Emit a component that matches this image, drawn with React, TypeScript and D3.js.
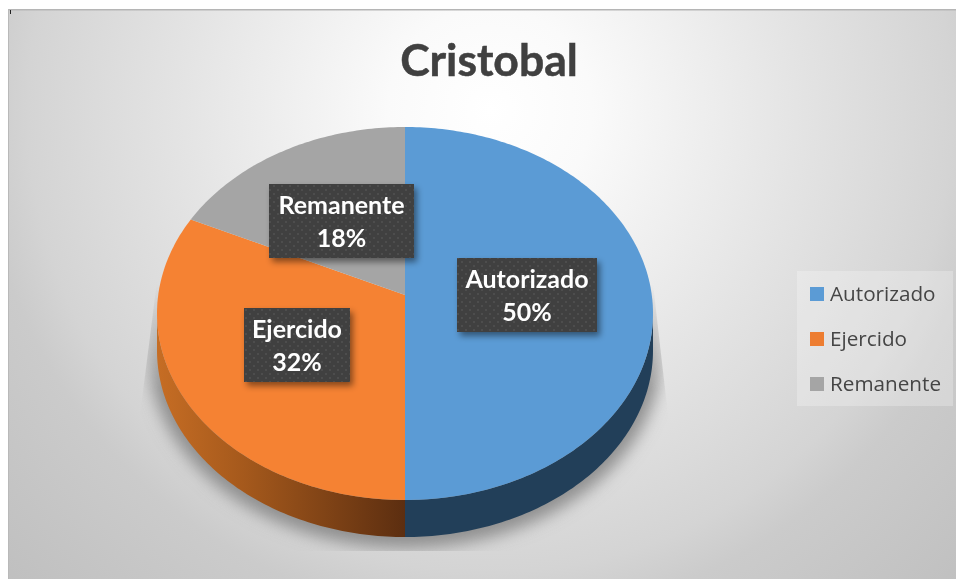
import * as d3 from 'd3';

const categories = ['Autorizado', 'Ejercido', 'Remanente'];
const values = [50, 32, 18];
const colors = ['#5b9bd5', '#f58233', '#a5a5a5'];
const legendColors = ['#5b9bd5', '#ed7d31', '#a5a5a5'];

const width = 956;
const height = 579;

// pie layout on the page
const cx = 405;
const rimTop = 127;
const apexY = 295;
const rimBottom = 500;
const depth = 37;
const halfWidth = 248;

// 3D look: unit circle -> ellipse with the apex above its middle
const c = (2 * apexY - rimTop - rimBottom) / (rimBottom - rimTop);
const a = apexY - rimTop + rimTop * c;
const k = halfWidth * Math.sqrt(1 - c * c);

const project = (angle: number, r = 1): [number, number] => {
  const px = r * Math.sin(angle);
  const py = -r * Math.cos(angle);
  const w = 1 + c * py;
  return [cx + (k * px) / w, (apexY + a * py) / w];
};

const pie = d3.pie<number>().sort(null);
const slices = pie(values);
const line = d3.line();

const sample = (start: number, end: number) => {
  const n = Math.max(2, Math.ceil((end - start) * 60));
  return d3.range(n + 1).map(i => start + ((end - start) * i) / n);
};

const slicePath = (s: d3.PieArcDatum<number>) =>
  line([[cx, apexY], ...sample(s.startAngle, s.endAngle).map(t => project(t))]) + 'Z';

// only the front of the rim shows a wall
const frontStart = Math.acos(c);
const frontEnd = 2 * Math.PI - frontStart;

const wallPath = (s: d3.PieArcDatum<number>) => {
  const from = Math.max(s.startAngle, frontStart);
  const to = Math.min(s.endAngle, frontEnd);
  if (to <= from) return null;
  const top = sample(from, to).map(t => project(t));
  const bottom = top.map(([x, y]) => [x, y + depth] as [number, number]).reverse();
  return line([...top, ...bottom]) + 'Z';
};

const outline =
  line([
    ...sample(frontStart, frontEnd).map(t => {
      const [x, y] = project(t);
      return [x, y + depth] as [number, number];
    }),
    ...sample(frontEnd, frontStart + 2 * Math.PI).map(t => project(t)),
  ]) + 'Z';

const labelBoxes = [
  { x: 457, y: 258, w: 140, h: 74, base: [288, 321] },
  { x: 244, y: 308, w: 106, h: 74, base: [338, 371] },
  { x: 269, y: 184, w: 145, h: 74, base: [214, 247] },
];

const legendY = d3.scalePoint<string>().domain(categories).range([294, 384]);
const font = 'Lato, "Open Sans", sans-serif';

export default function App() {
  const total = d3.sum(values);
  return (
    <div style={{ position: 'fixed', left: 0, top: 0 }}>
      <svg width={width} height={height} style={{ display: 'block' }}>
        <defs>
          <radialGradient id="bg" gradientUnits="userSpaceOnUse" cx={490} cy={110} r={680}>
            <stop offset="0" stopColor="#ffffff" />
            <stop offset="0.15" stopColor="#fafafa" />
            <stop offset="0.45" stopColor="#e4e4e4" />
            <stop offset="0.68" stopColor="#d4d4d4" />
            <stop offset="0.75" stopColor="#cbcbcb" />
            <stop offset="1" stopColor="#bfbfbf" />
          </radialGradient>
          <linearGradient id="wall-1" gradientUnits="userSpaceOnUse" x1={157} x2={405} y1={0} y2={0}>
            <stop offset="0" stopColor="#c66d24" />
            <stop offset="0.35" stopColor="#a5591c" />
            <stop offset="1" stopColor="#5c2e10" />
          </linearGradient>
          <pattern id="dots" width={8} height={8} patternUnits="userSpaceOnUse">
            <rect width={8} height={8} fill="#404040" />
            <circle cx={2} cy={2} r={1.1} fill="#505050" />
            <circle cx={6} cy={6} r={1.1} fill="#505050" />
          </pattern>
          <filter id="boxShadow" x="-20%" y="-20%" width="140%" height="150%">
            <feDropShadow dx={3} dy={4} stdDeviation={3} floodColor="#000" floodOpacity={0.45} />
          </filter>
          <filter id="soft" x="-20%" y="-20%" width="140%" height="140%">
            <feGaussianBlur stdDeviation={8} />
          </filter>
          <linearGradient id="fade" gradientUnits="userSpaceOnUse" x1={0} x2={0} y1={285} y2={390}>
            <stop offset="0" stopColor="#fff" stopOpacity={0} />
            <stop offset="1" stopColor="#fff" stopOpacity={1} />
          </linearGradient>
          <mask id="shadowMask" maskUnits="userSpaceOnUse" x={130} y={250} width={550} height={310}>
            <path d="M160,258L650,258L668,415L668,551L140,551L140,415Z" fill="url(#fade)" />
          </mask>
        </defs>

        <rect x={8} y={9} width={width - 8} height={height - 9} fill="url(#bg)" />
        <rect x={8} y={9} width={width - 8} height={1.5} fill="#b5b5b5" />
        <rect x={8} y={9} width={1} height={height - 9} fill="#b9b9b9" />
        <rect x={10} y={10} width={1} height={4} fill="#222" />

        <text x={489} y={76} textAnchor="middle" fontFamily={font} fontWeight={700} fontSize={44.5} fill="#404040" stroke="#404040" strokeWidth={0.5}>
          Cristobal
        </text>

        <g mask="url(#shadowMask)">
          <path d={outline} transform="translate(0,3)" fill="#8f8f8f" stroke="#8f8f8f" strokeWidth={16} filter="url(#soft)" />
        </g>

        {slices.map((s, i) => {
          const d = wallPath(s);
          return d ? <path key={i} d={d} fill={i === 1 ? 'url(#wall-1)' : '#223f59'} /> : null;
        })}
        {slices.map((s, i) => (
          <path key={i} d={slicePath(s)} fill={colors[i]} />
        ))}

        {labelBoxes.map((b, i) => (
          <g key={i} fontFamily={font} fontWeight={700} fontSize={25} fill="#fff" textAnchor="middle">
            <rect x={b.x} y={b.y} width={b.w} height={b.h} fill="url(#dots)" filter="url(#boxShadow)" />
            <text x={b.x + b.w / 2} y={b.base[0]}>{categories[i]}</text>
            <text x={b.x + b.w / 2} y={b.base[1]}>{d3.format('.0%')(values[i] / total)}</text>
          </g>
        ))}

        <rect x={797} y={271} width={156} height={135} fill="#fff" fillOpacity={0.25} />
        {categories.map((name, i) => (
          <g key={name}>
            <rect x={810} y={legendY(name)! - 7} width={14} height={14} fill={legendColors[i]} />
            <text x={830} y={legendY(name)! + 6.5} fontFamily='"Open Sans", sans-serif' fontSize={20.7} fill="#454545">
              {name}
            </text>
          </g>
        ))}
      </svg>
    </div>
  );
}
